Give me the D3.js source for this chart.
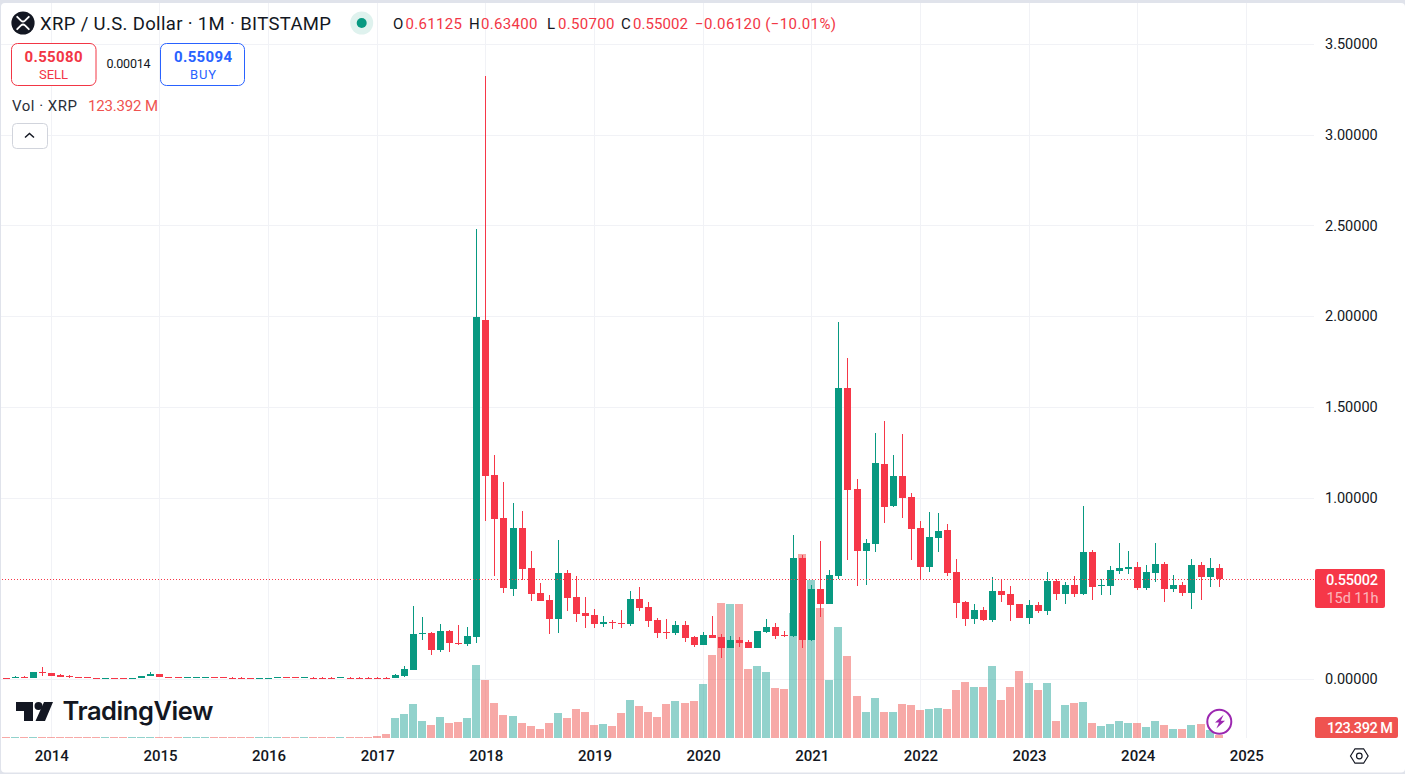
<!DOCTYPE html>
<html><head><meta charset="utf-8">
<script src="https://cdn.jsdelivr.net/npm/d3@7/dist/d3.min.js"></script>
<style>html,body{margin:0;padding:0;background:#e0e3eb;overflow:hidden}svg{display:block}text{font-family:Roboto,sans-serif}</style>
</head><body><svg id="c" width="1405" height="774"></svg>
<script>
// months are counted from Jan 2014 = 0; first bar is Aug 2013
const firstMonth = -5;
const opens = [.007,.012,.013,.005,.037,.033,.022,.014,.011,.009,.004,.004,.006,.006,.004,.003,.014,.028,.011,.009,.008,.009,.011,.009,.009,.008,.008,.004,.006,.007,.008,.009,.009,.008,.008,.008,.008,.009,.008,.008,.008,.008,.008,
.006,.017,.050,.248,.254,.160,.265,.198,.193,.231,1.979,1.124,.889,.496,.832,.612,.474,.435,.331,.584,.452,.364,.353,.303,.314,.309,.303,.441,.397,.325,.259,.254,.298,.231,.187,.243,.231,.171,.215,.204,.171,.259,.287,.243,.237,.667,.215,.496,.413,.568,1.604,1.047,.706,.744,1.185,.954,1.119,1.003,.832,.617,.777,.821,.590,.424,.331,.380,.325,.485,.468,.413,.336,.408,.375,.540,.468,.518,.468,.700,.513,.513,.595,.606,.617,.502,.584,.634,.496,.518,.474,.628,.562,.61125];
const highs = [.008,.014,.014,.038,.066,.034,.028,.020,.012,.010,.005,.007,.008,.008,.005,.015,.036,.030,.012,.010,.009,.010,.012,.010,.010,.009,.009,.005,.007,.008,.009,.010,.010,.009,.009,.009,.009,.010,.009,.009,.009,.009,.009,
.028,.072,.402,.342,.259,.303,.268,.298,.287,2.480,3.324,1.235,1.086,.970,.926,.706,.529,.463,.766,.601,.568,.452,.386,.347,.325,.380,.485,.507,.424,.336,.331,.320,.320,.237,.259,.347,.248,.237,.231,.215,.265,.331,.309,.265,.794,.683,.518,.761,.601,1.968,1.769,1.102,.772,1.356,1.422,1.235,1.350,1.025,.871,.920,.915,.854,.661,.430,.413,.397,.562,.551,.513,.413,.435,.424,.590,.551,.535,.568,.954,.711,.551,.623,.750,.706,.645,.628,.750,.645,.573,.535,.661,.645,.667,.634];
const lows = [.005,.012,.012,.005,.016,.016,.010,.008,.009,.008,.002,.003,.004,.004,.003,.003,.014,.013,.009,.008,.007,.008,.010,.008,.008,.007,.007,.003,.005,.006,.007,.008,.008,.007,.007,.007,.007,.008,.007,.007,.007,.007,.007,
.006,.011,.048,.215,.132,.149,.149,.187,.182,.198,.871,.568,.474,.457,.546,.430,.430,.248,.254,.375,.314,.281,.281,.287,.276,.281,.292,.375,.287,.226,.220,.243,.204,.176,.187,.226,.116,.171,.176,.171,.171,.254,.220,.231,.231,.171,.209,.342,.413,.551,.656,.513,.518,.700,.860,.948,.887,.656,.551,.590,.700,.568,.336,.292,.303,.320,.314,.424,.320,.336,.303,.364,.353,.435,.413,.452,.463,.435,.463,.463,.579,.579,.491,.491,.535,.424,.480,.457,.386,.435,.507,.507];
const closes = [.006,.013,.012,.037,.031,.017,.012,.010,.010,.008,.003,.005,.005,.005,.005,.015,.030,.013,.009,.008,.009,.010,.012,.008,.008,.007,.007,.003,.007,.008,.009,.008,.008,.009,.007,.007,.007,.009,.007,.007,.007,.007,.007,
.022,.055,.248,.254,.160,.265,.198,.193,.237,1.995,1.119,.882,.502,.832,.606,.468,.430,.331,.584,.446,.358,.347,.303,.314,.309,.303,.441,.391,.320,.254,.254,.298,.226,.187,.243,.226,.171,.215,.198,.171,.265,.287,.237,.237,.667,.215,.496,.413,.573,1.604,1.042,.706,.750,1.191,.948,1.119,.998,.827,.617,.783,.816,.584,.419,.331,.380,.325,.485,.463,.408,.336,.408,.375,.540,.468,.518,.468,.700,.507,.518,.601,.612,.617,.502,.590,.634,.496,.518,.474,.628,.562,.612,.55002];
const volumes = [25,25,25,25,25,25,25,25,25,25,25,25,25,25,25,25,25,25,25,25,25,25,25,25,25,25,25,25,25,25,25,25,25,25,25,25,25,25,25,25,25,92,207,
920,1104,1564,782,598,966,690,736,920,3358,2668,1610,1058,1012,690,552,414,690,1150,920,1334,1196,598,644,552,1150,1748,1472,1196,966,1564,1702,1610,1702,2484,3818,6210,6164,6164,3174,3312,3036,2300,2254,5750,8464,7268,5980,2668,5106,3772,1932,1196,1840,1196,1196,1564,1518,1288,1334,1380,1334,2208,2576,2346,2346,3312,1748,2346,3082,2530,2208,2530,782,1518,1610,1656,690,552,644,782,690,690,506,782,598,414,414,598,644,368,123.392];
const priceTicks = [0,1,1.5,2,2.5,3,3.5];
const yearMonths = [0,12,24,36,48,60,72,84,96,108,120,132];
const yearLabels = ["2014","2015","2016","2017","2018","2019","2020","2021","2022","2023","2024","2025"];
const lastClose = 0.55002;

const UP="#089981", DOWN="#f63748", VUP="rgba(38,166,154,.5)", VDOWN="rgba(239,83,80,.5)", INK="#131722", GRID="#f1f2f6";
const PLOT_R=1314, VOL_BASE=738;
const x=d3.scaleLinear().domain([0,132]).range([51.3,1246.3]);
const y=d3.scaleLinear().domain([0,3.5]).range([679,44]);
const v=d3.scaleLinear().domain([0,8464]).range([VOL_BASE,554]);
const svg=d3.select("#c");
const cx=i=>Math.round(x(i)-.5)+.5;
const cy=p=>Math.round(y(p));

svg.append("rect").attr("x",1).attr("y",3).attr("width",1404).attr("height",769.5).attr("rx",4).attr("fill","#fff");

// grid
const g=svg.append("g").attr("shape-rendering","crispEdges");
g.selectAll(".h").data(priceTicks).join("line").attr("x1",1).attr("x2",PLOT_R).attr("y1",d=>Math.round(y(d))+.5).attr("y2",d=>Math.round(y(d))+.5).attr("stroke",GRID);
g.selectAll(".v").data(yearMonths).join("line").attr("x1",d=>cx(d)).attr("x2",d=>cx(d)).attr("y1",3).attr("y2",VOL_BASE).attr("stroke",GRID);

const rows=opens.map((o,k)=>({i:k+firstMonth,o,h:highs[k],l:lows[k],c:closes[k],vol:volumes[k],up:closes[k]>=o}));

// volume
svg.append("g").attr("shape-rendering","crispEdges").selectAll("rect").data(rows).join("rect")
 .attr("x",d=>cx(d.i)-4.5).attr("width",8)
 .attr("y",d=>Math.min(Math.round(v(d.vol)),VOL_BASE-1)).attr("height",d=>VOL_BASE-Math.min(Math.round(v(d.vol)),VOL_BASE-1))
 .attr("fill",d=>d.up?VUP:VDOWN);

// candles
const cg=svg.append("g").attr("shape-rendering","crispEdges");
cg.selectAll(".w").data(rows).join("rect").attr("x",d=>cx(d.i)-.5).attr("width",1)
 .attr("y",d=>cy(d.h)).attr("height",d=>Math.max(1,cy(d.l)-cy(d.h))).attr("fill",d=>d.up?UP:DOWN);
cg.selectAll(".b").data(rows).join("rect").attr("x",d=>cx(d.i)-3.5).attr("width",7)
 .attr("y",d=>Math.min(cy(d.o),cy(d.c))).attr("height",d=>Math.max(1,Math.abs(cy(d.o)-cy(d.c)))).attr("fill",d=>d.up?UP:DOWN);

// last price line
svg.append("line").attr("x1",2).attr("x2",PLOT_R).attr("y1",Math.round(y(lastClose))+.5).attr("y2",Math.round(y(lastClose))+.5)
 .attr("stroke",DOWN).attr("stroke-dasharray","1 2");

// axes
const ay=svg.append("g").attr("transform",`translate(1325,0)`).call(d3.axisRight(y).tickValues(priceTicks).tickSize(0).tickPadding(0).tickFormat(d3.format(".5f")));
ay.select(".domain").remove();
ay.selectAll("text").attr("font-size",14.5).attr("fill",INK).attr("style","font-family:Roboto").attr("x",0);
const ax=svg.append("g").attr("transform",`translate(0,${VOL_BASE})`).call(d3.axisBottom(x).tickValues(yearMonths).tickSize(0).tickPadding(0).tickFormat((d,i)=>yearLabels[i]));
ax.select(".domain").remove();
ax.selectAll("text").attr("font-size",15).attr("font-weight",500).attr("fill",INK).attr("style","font-family:Roboto").attr("dy",0).attr("y",22.5);

function t(s,xx,yy,size,color,opt={}){
  const e=svg.append("text").attr("x",xx).attr("y",yy).attr("font-size",size).attr("fill",color).text(s);
  if(opt.w)e.attr("textLength",opt.w).attr("lengthAdjust","spacing");
  if(opt.weight)e.attr("font-weight",opt.weight);
  if(opt.anchor)e.attr("text-anchor",opt.anchor);
  if(opt.family)e.style("font-family",opt.family);
  if(opt.op)e.attr("fill-opacity",opt.op);
  return e;
}
// header
svg.append("circle").attr("cx",23).attr("cy",23).attr("r",11.6).attr("fill",INK);
svg.append("path").attr("d","M17.2 16.8 L21 20.6 Q23 22.4 25 20.6 L28.8 16.8 M17.2 29.2 L21 25.4 Q23 23.6 25 25.4 L28.8 29.2").attr("fill","none").attr("stroke","#fff").attr("stroke-width",1.9).attr("stroke-linecap","round");
t("XRP / U.S. Dollar · 1M · BITSTAMP",40,30,18.5,INK,{w:291});
svg.append("circle").attr("cx",361.7).attr("cy",23).attr("r",11.5).attr("fill","#dff2ee");
svg.append("circle").attr("cx",361.7).attr("cy",23).attr("r",5).attr("fill",UP);
const RED="#f23645";
t("O",393,28.5,15,INK);t("0.61125",405.5,28.5,15,RED,{w:56.5});
t("H",469,28.5,15,INK);t("0.63400",481,28.5,15,RED,{w:56.5});
t("L",547,28.5,15,INK);t("0.50700",558,28.5,15,RED,{w:56.5});
t("C",621,28.5,15,INK);t("0.55002",633,28.5,15,RED,{w:55});
t("−0.06120 (−10.01%)",695,28.5,15,RED,{w:141});
// sell / buy
svg.append("rect").attr("x",11.5).attr("y",43.5).attr("width",84.5).attr("height",42).attr("rx",6).attr("fill","#fff").attr("stroke",RED);
svg.append("rect").attr("x",160.5).attr("y",43.5).attr("width",84).attr("height",42).attr("rx",6).attr("fill","#fff").attr("stroke","#2962ff");
t("0.55080",24.5,62,15,RED,{w:58,weight:700});
t("SELL",39,79,13,RED,{w:29});
t("0.00014",106.5,68,12.5,INK,{w:44});
t("0.55094",174,62,15,"#2962ff",{w:58,weight:700});
t("BUY",190,79,13,"#2962ff",{w:26});
// volume legend
t("Vol · XRP",12,111,15,"#2a2e39",{w:65});
t("123.392 M",88,111,15,"#ef5350",{w:70});
svg.append("rect").attr("x",12.5).attr("y",123.5).attr("width",35).attr("height",25).attr("rx",4).attr("fill","#fff").attr("stroke","#d1d4dc");
svg.append("path").attr("d","M25 137.5 L29.5 133.5 L34 137.5").attr("fill","none").attr("stroke",INK).attr("stroke-width",1.5);
// tags
svg.append("rect").attr("x",1315).attr("y",569).attr("width",70).attr("height",39).attr("rx",2).attr("fill",DOWN);
t("0.55002",1326,585,14.5,"#fff",{w:52,weight:500});
t("15d 11h",1326.5,602.5,14.5,"#fff",{w:52,op:.65});
svg.append("rect").attr("x",1315).attr("y",717).attr("width",83).attr("height",21).attr("rx",2).attr("fill","#ef5350");
t("123.392 M",1327,732.5,14.5,"#fff",{w:66,weight:500});
// logo
svg.append("path").attr("d","M16 702H33V721H24V711H16Z M44 702H53L45 721H35.5Z").attr("fill",INK);
svg.append("circle").attr("cx",38.5).attr("cy",706).attr("r",4).attr("fill",INK);
t("TradingView",62.5,719.5,25.5,INK,{w:151,weight:600,family:"Inter"});
// bolt
svg.append("circle").attr("cx",1219.3).attr("cy",721.7).attr("r",12).attr("fill","#fff").attr("stroke","#9c27b0").attr("stroke-width",2);
svg.append("path").attr("d","M1223.6 714.8 L1215 722.6 H1219 L1216.4 728.6 L1225 720.8 H1220.8 Z").attr("fill","#9c27b0");
// settings
svg.append("path").attr("d","M1350.5 756 L1355 748.8 H1363.6 L1368.1 756 L1363.6 763.2 H1355 Z").attr("fill","none").attr("stroke",INK).attr("stroke-width",1.2);
svg.append("circle").attr("cx",1359.3).attr("cy",756).attr("r",2.8).attr("fill","none").attr("stroke",INK).attr("stroke-width",1.2);
</script></body></html>
